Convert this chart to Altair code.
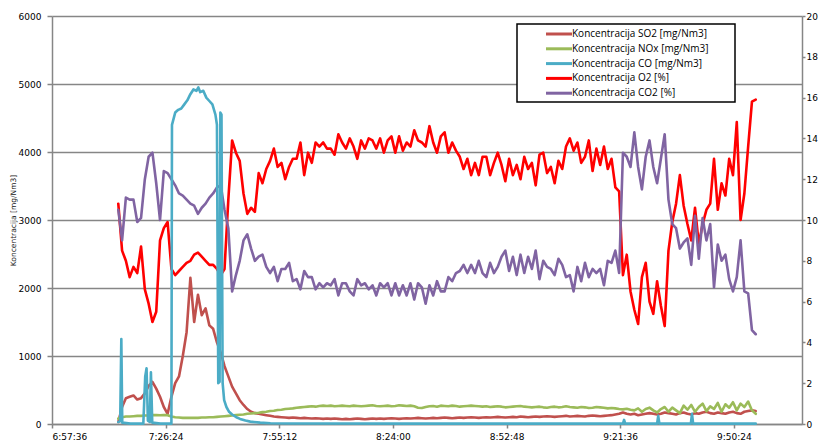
import altair as alt
import pandas as pd

# ---------------- data ----------------
series_names = [
    "Koncentracija SO2 [mg/Nm3]",
    "Koncentracija NOx [mg/Nm3]",
    "Koncentracija CO [mg/Nm3]",
    "Koncentracija O2 [%]",
    "Koncentracija CO2 [%]",
]
series_colors = ["#C0504D", "#9BBB59", "#4BACC6", "#FF0000", "#8064A2"]

start_time = "7:14:24"      # first sample
step_seconds = 57.7         # sampling interval

x_tick_labels = ["6:57:36", "7:26:24", "7:55:12", "8:24:00", "8:52:48", "9:21:36", "9:50:24"]
x_axis_min = "6:57:36"
x_axis_max = "10:07:41"
left_ticks = [0, 1000, 2000, 3000, 4000, 5000, 6000]
right_ticks = [0, 2, 4, 6, 8, 10, 12, 14, 16, 18, 20]

o2 = [
    10.8, 8.5, 8.0, 7.2, 7.7, 7.4, 8.7, 6.6, 5.9, 5.0,
    5.5, 9.0, 9.6, 9.9, 7.6, 7.3, 7.5, 7.7, 7.9, 8.0,
    8.3, 8.4, 8.2, 8.0, 7.8, 7.8, 7.6, 7.3, 7.6, 11.0,
    13.9, 13.3, 12.9, 11.3, 10.3, 10.6, 10.4, 12.3, 11.8, 12.5,
    12.9, 13.5, 12.6, 12.8, 12.0, 12.6, 13.0, 13.0, 13.8, 12.2,
    13.3, 12.8, 13.8, 13.6, 13.8, 13.5, 13.5, 13.2, 14.2, 13.8,
    13.5, 14.0, 13.6, 13.0, 13.9, 13.5, 14.0, 13.9, 13.5, 14.0,
    13.3, 13.9, 14.1, 13.3, 14.1, 13.4, 13.8, 13.6, 14.4, 13.9,
    13.8, 13.6, 14.6, 13.8, 13.3, 14.1, 14.3, 13.3, 13.8, 13.4,
    13.1, 12.5, 13.0, 12.2, 12.8, 12.2, 13.1, 13.1, 12.2, 12.8,
    13.3, 12.7, 11.9, 13.0, 12.2, 12.7, 12.0, 13.1, 12.5, 12.8,
    11.7, 13.2, 13.3, 12.3, 12.6, 11.8, 12.9, 12.5, 13.6, 14.0,
    13.4, 13.8, 12.8, 13.1, 13.9, 12.4, 13.5, 12.7, 13.6, 12.5,
    13.0, 11.6, 11.4, 7.3, 8.3, 6.5, 5.6, 4.9, 7.2, 7.9,
    6.0, 5.4, 7.0, 5.8, 4.8, 8.5, 9.9, 10.8, 12.2, 10.7,
    9.8, 9.0, 10.6, 8.8, 9.8, 10.5, 10.8, 13.0, 10.5, 11.8,
    11.2, 13.0, 12.2, 14.8, 10.0, 11.3, 13.6, 15.8, 15.9,
]

co2 = [
    10.5, 9.0, 11.1, 11.0, 11.0, 9.9, 10.1, 12.0, 13.1, 13.3,
    11.8, 10.0, 12.4, 12.3, 12.0, 11.7, 11.3, 11.2, 11.0, 10.8,
    10.7, 10.3, 10.6, 10.8, 11.1, 11.3, 11.6, 11.7, 10.5, 9.6,
    6.5, 7.3, 8.0, 9.0, 9.3, 8.6, 8.0, 8.2, 8.3, 7.7,
    7.4, 7.7, 7.0, 7.6, 7.6, 7.9, 7.0, 7.1, 6.6, 7.5,
    7.2, 7.2, 6.6, 6.9, 6.7, 6.9, 6.8, 7.1, 6.3, 6.9,
    6.9, 6.5, 6.3, 7.1, 6.8, 6.9, 6.6, 6.8, 6.3, 6.9,
    6.7, 6.9, 6.3, 6.9, 6.3, 6.8, 6.3, 6.9, 6.1, 6.9,
    6.7, 5.9, 6.8, 6.3, 7.0, 6.5, 6.5, 7.2, 7.0, 7.4,
    7.5, 7.8, 7.4, 7.8, 7.4, 8.0, 7.4, 7.2, 7.9, 7.4,
    7.7, 8.2, 8.5, 7.5, 8.2, 7.3, 8.3, 7.4, 8.2, 7.6,
    8.5, 7.1, 8.0, 7.7, 7.6, 7.3, 8.1, 7.8, 7.2, 7.3,
    6.5, 7.7, 7.0, 7.9, 7.2, 7.6, 7.4, 7.6, 6.8, 8.0,
    7.9, 8.5, 7.4, 13.3, 13.1, 12.6, 14.3, 12.6, 11.5, 13.1,
    13.9, 12.6, 11.8, 13.0, 14.2, 11.0, 9.8, 9.6, 8.6, 8.9,
    9.1, 7.8, 10.2, 8.1, 10.1, 9.0, 9.8, 6.7, 8.8, 8.0,
    8.3, 7.1, 6.5, 7.2, 9.0, 6.5, 6.4, 4.6, 4.4,
]

so2 = [
    30, 250, 380, 400, 420, 360, 380, 450, 560, 620,
    520, 400, 250, 150, 400, 600, 700, 1000, 1350, 2150,
    1500, 1900, 1600, 1700, 1450, 1400, 1200, 1050, 850, 700,
    550, 450, 350, 280, 220, 180, 160, 150, 140, 130,
    120, 110, 105, 100, 95, 90, 95, 90, 85, 90,
    85, 80, 85, 80, 75, 80, 75, 80, 75, 70,
    75, 70, 75, 80, 75, 70, 75, 80, 75, 80,
    75, 80, 85, 80, 75, 80, 85, 80, 85, 90,
    85, 80, 85, 90, 85, 90, 95, 90, 85, 90,
    95, 90, 95, 100, 95, 90, 95, 100, 95, 100,
    105, 100, 95, 100, 105, 100, 110, 105, 100, 105,
    110, 105, 110, 115, 110, 105, 110, 115, 120, 110,
    115, 120, 115, 110, 120, 125, 120, 115, 120, 125,
    130, 140, 150, 170, 150, 140, 150, 130, 140, 150,
    160, 150, 140, 150, 170, 160, 150, 140, 160, 170,
    150, 140, 160, 150, 170, 180, 160, 150, 170, 160,
    150, 170, 180, 160, 150, 180, 190, 200, 190,
]

nox = [
    80, 100, 110, 110, 115, 120, 120, 125, 125, 130,
    130, 128, 130, 130, 110, 100, 95, 90, 90, 90,
    92, 90, 95, 95, 100, 100, 105, 110, 115, 120,
    125, 130, 135, 140, 150, 155, 160, 165, 175, 180,
    190, 195, 205, 210, 220, 225, 230, 240, 245, 250,
    255, 260, 255, 265, 270, 265, 270, 260, 265, 270,
    265, 260, 270, 265, 260, 265, 270, 275, 265, 260,
    265, 270, 260, 265, 275, 270, 265, 270, 260, 240,
    235, 250, 260, 265, 255, 270, 265, 260, 270, 265,
    255, 260, 265, 270, 265, 260, 255, 260, 250, 255,
    260, 255, 245, 250, 255, 260, 265, 255, 250, 245,
    250, 255, 245, 240, 250, 255, 245, 250, 260, 250,
    245, 240, 250, 245, 235, 240, 250, 245, 240, 230,
    235, 230, 220, 215, 225, 210, 200, 230, 180, 220,
    240, 200, 170, 220, 250, 180, 240, 200, 160, 270,
    210, 280, 180, 250, 300, 190, 260, 220, 310, 180,
    290, 240, 320, 200, 300, 250, 330, 200, 150,
]

# CO is spiky: its own (fractional) sample positions
co_idx = [
    0, 0.5, 0.8, 1.05, 3.2, 6.6, 7.1, 7.45, 7.8, 8.3, 8.6, 8.95, 11.1, 14.0,
    14.15, 15.0, 15.8, 16.6, 17.4, 18.2, 19.0, 19.8, 20.6, 21.1, 21.6, 22.4,
    23.2, 24.0, 24.8, 25.6, 26.0, 26.35, 26.7, 26.9, 27.2, 27.5, 27.9, 28.5,
    29.2, 30.0, 31.1, 32.1, 33.5, 34.8, 37.4, 40.1, 45.3, 80, 120, 133.0,
    133.3, 133.6, 142.0, 142.3, 142.6, 150.9, 151.2, 151.5, 168,
]
co_val = [
    30, 40, 1250, 20, 5, 5, 700, 820, 50, 30, 760, 20, 5, 5,
    4400, 4580, 4620, 4640, 4700, 4760, 4850, 4920, 4900, 4950, 4880, 4900,
    4800, 4750, 4700, 4550, 4400, 600, 620, 4580, 4550, 600, 350, 250,
    180, 140, 100, 75, 50, 35, 20, 12, 8, 6, 5, 5,
    60, 5, 5, 120, 5, 5, 150, 5, 5,
]


def to_sec(s):
    h, m, sec = (int(p) for p in s.split(":"))
    return h * 3600 + m * 60 + sec


t0 = to_sec(start_time)


def frame(name, idx, vals):
    return pd.DataFrame({"t": [t0 + i * step_seconds for i in idx], "v": vals, "s": name})


grid_grey = "#868686"
font = "DejaVu Sans"

x_enc = alt.X(
    "t:Q",
    scale=alt.Scale(domain=[to_sec(x_axis_min), to_sec(x_axis_max)], nice=False, zero=False),
    axis=alt.Axis(
        values=[to_sec(s) for s in x_tick_labels],
        labelExpr="utcFormat(datum.value * 1000, '%-H:%M:%S')",
        title=None, grid=False,
        labelFont=font, labelFontSize=9, labelColor="#000",
        domainColor=grid_grey, domainWidth=1.5,
        tickColor=grid_grey, tickWidth=1.5, tickSize=4,
        labelPadding=4, labelOverlap=False,
    ),
)

legend = alt.Legend(
    orient="none", legendX=465, legendY=8,
    title="\u00a0", titleOrient="right", titlePadding=24, titleFontSize=9,
    padding=2, strokeColor="#000", fillColor="#fff",
    symbolType="M-2,0L2,0", symbolSize=169, symbolStrokeWidth=3, symbolOffset=32,
    labelOffset=5, labelFont="Open Sans", labelFontSize=10, labelColor="#000",
    rowPadding=0.8, labelLimit=300,
)

color_enc = alt.Color(
    "s:N",
    scale=alt.Scale(domain=series_names, range=series_colors),
    legend=legend,
)

left_axis = alt.Axis(
    values=left_ticks, format="d", orient="left",
    grid=True, gridColor=grid_grey, gridWidth=1.5,
    labelFont=font, labelFontSize=9, labelColor="#000", labelPadding=6,
    domainColor=grid_grey, domainWidth=1.5,
    tickColor=grid_grey, tickWidth=1.5, tickSize=5,
    title="Koncentracija [mg/Nm3]", titleFont=font, titleFontSize=7.5,
    titleFontWeight="normal", titleColor="#222",
    titleAngle=270, titleBaseline="top", titleAlign="center",
    titleX=-43, titleY=204,
)

right_axis = alt.Axis(
    values=right_ticks, format="d", orient="right",
    grid=False,
    labelFont=font, labelFontSize=9, labelColor="#000", labelPadding=1,
    domainColor=grid_grey, domainWidth=1.5,
    tickColor=grid_grey, tickWidth=1.5, tickSize=3,
    title=None,
)

left_scale = alt.Scale(domain=[0, 6000], nice=False)
right_scale = alt.Scale(domain=[0, 20], nice=False)


def layer(df, y_axis, y_scale):
    return alt.Chart(df).mark_line(strokeWidth=2.6, strokeJoin="round", strokeCap="round").encode(
        x=x_enc,
        y=alt.Y("v:Q", scale=y_scale, axis=y_axis),
        color=color_enc,
    )


m_idx = list(range(len(o2)))

o2_layer = layer(frame(series_names[3], m_idx, o2), right_axis, right_scale)
co2_layer = layer(frame(series_names[4], m_idx, co2), None, right_scale)
so2_layer = layer(frame(series_names[0], m_idx, so2), left_axis, left_scale)
nox_layer = layer(frame(series_names[1], m_idx, nox), None, left_scale)
co_layer = layer(frame(series_names[2], co_idx, co_val), None, left_scale)

chart = (
    alt.layer(o2_layer, co2_layer, so2_layer, nox_layer, co_layer)
    .resolve_scale(y="independent")
    .properties(
        width=750, height=408,
        padding={"left": 44, "top": 8, "right": 16, "bottom": 18},
        autosize=alt.AutoSizeParams(type="none"),
        background="white",
    )
    .configure_view(stroke=None)
    .configure_legend(strokeWidth=1.5)
)

chart.save("out.html", embed_options={"renderer": "svg", "actions": False})
